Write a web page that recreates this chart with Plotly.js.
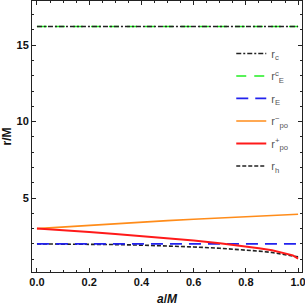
<!DOCTYPE html>
<html>
<head>
<meta charset="utf-8">
<script src="https://cdn.plot.ly/plotly-3.0.1.min.js"></script>
<style>html,body{margin:0;padding:0;background:#fff;}#chart{width:305px;height:306px;}</style>
</head>
<body>
<div id="chart"></div>
<script>
// spin parameter a/M
const aFlat = [0.0, 1.0];
const rC = [16.22, 16.22];        // r_c
const rEc = [16.22, 16.22];       // r_E^c
const rE = [2.0, 2.0];            // r_E

const aCurve = [0.0, 0.1, 0.2, 0.3, 0.4, 0.5, 0.6, 0.7, 0.8, 0.85, 0.9, 0.95, 0.98, 1.0];
const rPoMinus = [3.0, 3.11, 3.22, 3.32, 3.42, 3.52, 3.61, 3.70, 3.78, 3.82, 3.86, 3.90, 3.92, 3.94];
const rPoPlus  = [3.0, 2.90, 2.78, 2.65, 2.52, 2.37, 2.22, 2.04, 1.84, 1.72, 1.58, 1.40, 1.25, 1.04];
const rH       = [2.0, 1.995, 1.98, 1.954, 1.917, 1.866, 1.80, 1.714, 1.60, 1.527, 1.436, 1.312, 1.20, 1.15];

const traces = [
  {x: aCurve, y: rH, name: 'r<sub>h</sub>', legendrank: 6, legendgroup: 'g6', mode: 'lines',
   line: {color: '#222222', width: 1.6, dash: '4px,2px'}},
  {x: aFlat, y: rE, name: 'r<sub>E</sub>', legendrank: 3, legendgroup: 'g3', mode: 'lines',
   line: {color: '#2222ee', width: 1.8, dash: '12px,7px'}},
  {x: aFlat, y: rEc, name: 'r<sup>c</sup><sub>E</sub>', legendrank: 2, legendgroup: 'g2', mode: 'lines',
   line: {color: '#22ee22', width: 1.6, dash: '10px,8px'}},
  {x: aFlat, y: rC, name: 'r<sub>c</sub>', legendrank: 1, legendgroup: 'g1', mode: 'lines',
   line: {color: '#222222', width: 1.4, dash: '5px,2px,2px,2px'}},
  {x: aCurve, y: rPoMinus, name: 'r<sup>\u2212</sup><sub>po</sub>', legendrank: 4, legendgroup: 'g4', mode: 'lines',
   line: {color: '#ff8c1a', width: 1.6}},
  {x: aCurve, y: rPoPlus, name: 'r<sup>+</sup><sub>po</sub>', legendrank: 5, legendgroup: 'g5', mode: 'lines',
   line: {color: '#ff1a1a', width: 2}}
];

const tickFont = {family: 'Liberation Sans, Arial, sans-serif', size: 11, color: '#111', weight: 'bold'};
const axisCommon = {
  showline: true, linecolor: '#222', linewidth: 1, mirror: 'allticks',
  ticks: 'inside', ticklen: 4, tickcolor: '#222', tickwidth: 1,
  showgrid: false, zeroline: false, tickfont: tickFont, ticklabeloverflow: 'allow'
};

const layout = {
  width: 305, height: 306,
  margin: {l: 32, r: 3, t: 1, b: 34},
  paper_bgcolor: '#fff', plot_bgcolor: '#fff',
  showlegend: true,
  legend: {x: 0.738, y: 0.86, xanchor: 'left', yanchor: 'top',
           bgcolor: 'rgba(0,0,0,0)', tracegroupgap: 3.5, traceorder: 'grouped',
           font: {family: 'Liberation Sans, Arial, sans-serif', size: 11, color: '#555'}},
  xaxis: Object.assign({}, axisCommon, {
    range: [-0.019, 1.015], tickvals: [0, 0.2, 0.4, 0.6, 0.8, 1.0],
    ticktext: ['0.0', '0.2', '0.4', '0.6', '0.8', '1.0'],
    minor: {dtick: 0.05, tick0: 0, ticks: 'inside', ticklen: 2, tickcolor: '#222', showgrid: false},
    title: {text: '<i>a</i>/<i>M</i>', standoff: 8,
            font: {family: 'Liberation Sans, Arial, sans-serif', size: 12, color: '#111', weight: 'bold'}}
  }),
  yaxis: Object.assign({}, axisCommon, {
    range: [0.16, 17.89], tickvals: [5, 10, 15],
    minor: {dtick: 1, tick0: 0, ticks: 'inside', ticklen: 2, tickcolor: '#222', showgrid: false},
    title: {text: 'r/M', standoff: 6,
            font: {family: 'Liberation Sans, Arial, sans-serif', size: 12, color: '#111', weight: 'bold'}}
  })
};

Plotly.newPlot('chart', traces, layout, {displayModeBar: false, staticPlot: true});
</script>
</body>
</html>
